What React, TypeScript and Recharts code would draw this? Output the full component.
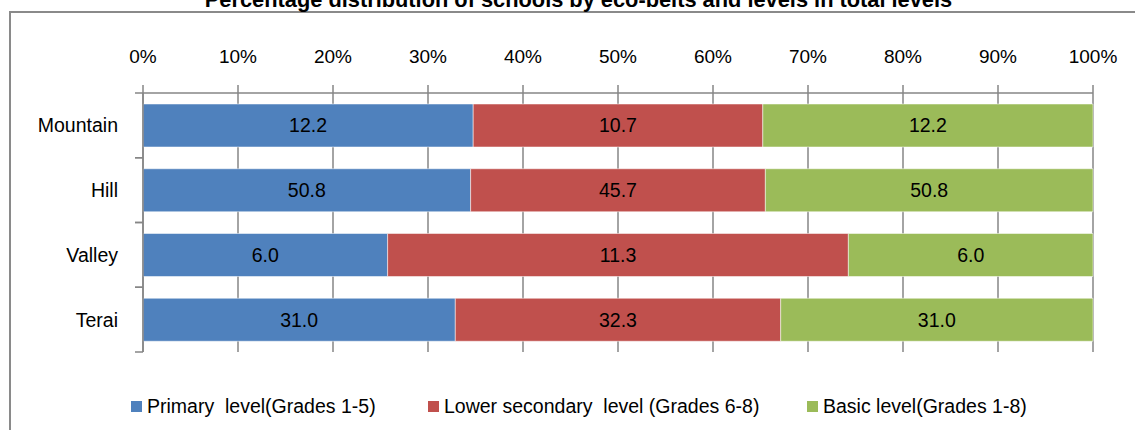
import React from 'react';
import { BarChart, Bar, XAxis, YAxis, CartesianGrid, LabelList } from 'recharts';

// eco-belts (top to bottom)
const belts = ['Mountain', 'Hill', 'Valley', 'Terai'];
const primary = [12.2, 50.8, 6.0, 31.0];
const lowerSecondary = [10.7, 45.7, 11.3, 32.3];
const basic = [12.2, 50.8, 6.0, 31.0];

const percentTicks = [0, 0.1, 0.2, 0.3, 0.4, 0.5, 0.6, 0.7, 0.8, 0.9, 1];

const seriesNames = [
  'Primary  level(Grades 1-5)',
  'Lower secondary  level (Grades 6-8)',
  'Basic level(Grades 1-8)',
];
const colors = ['#4F81BD', '#C0504D', '#9BBB59'];

const data = belts.map((belt, i) => ({
  belt,
  primary: primary[i],
  lowerSecondary: lowerSecondary[i],
  basic: basic[i],
}));

const FONT = "'Liberation Sans', Arial, sans-serif";
const FS = 19.5;
const AXIS = '#868686';

const W = 1135;
const H = 430;
const margin = { top: 0, right: 42, bottom: 78, left: 0 };
const yAxisWidth = 143;
const xAxisHeight = 93;
const plotHeight = H - margin.top - margin.bottom - xAxisHeight;
const band = plotHeight / belts.length;

const TICK = 8;
const TICK_GAP = 17;

const BeltTick = (props: any) => {
  const { x, y, payload } = props;
  const axisX = x + TICK + TICK_GAP;
  return (
    <g>
      <line x1={axisX - TICK} x2={axisX} y1={y - band / 2} y2={y - band / 2} stroke={AXIS} strokeWidth={1.5} />
      <line x1={axisX - TICK} x2={axisX} y1={y + band / 2} y2={y + band / 2} stroke={AXIS} strokeWidth={1.5} />
      <text x={x} y={y} dy="0.355em" textAnchor="end" fill="#000" fontSize={FS} fontFamily={FONT}>
        {payload.value}
      </text>
    </g>
  );
};

const fmt = (v: any) => Number(v).toFixed(1);

export default function App() {
  return (
    <div style={{ position: 'relative', width: W, height: H, overflow: 'hidden', background: '#fff' }}>
      <style>{'body{margin:0}'}</style>
      <div
        style={{
          position: 'absolute',
          left: 9,
          top: 11,
          width: W,
          height: H,
          border: '2px solid #8a8a8a',
          boxSizing: 'border-box',
        }}
      />
      <div
        style={{
          position: 'absolute',
          left: 0,
          width: 1157,
          top: -11,
          lineHeight: '22px',
          textAlign: 'center',
          fontFamily: FONT,
          fontWeight: 'bold',
          fontSize: 21.8,
          color: '#000',
          whiteSpace: 'nowrap',
        }}
      >
        Percentage distribution of schools by eco-belts and levels in total levels
      </div>
      <div style={{ position: 'absolute', left: 0, top: 0 }}>
        <BarChart width={W} height={H} data={data} layout="vertical" stackOffset="expand" margin={margin} barSize={43}>
          <CartesianGrid horizontal={false} stroke={AXIS} strokeWidth={1.5} strokeDasharray="" />
          <XAxis
            type="number"
            orientation="top"
            domain={[0, 1]}
            ticks={percentTicks}
            height={xAxisHeight}
            tickFormatter={(v: number) => `${Math.round(v * 100)}%`}
            tick={{ fill: '#000', fontSize: 19, fontFamily: FONT }}
            tickSize={TICK}
            tickMargin={22}
            axisLine={{ stroke: AXIS, strokeWidth: 1.5 }}
            tickLine={{ stroke: AXIS, strokeWidth: 1.5 }}
          />
          <YAxis
            type="category"
            dataKey="belt"
            width={yAxisWidth}
            tick={<BeltTick />}
            tickLine={false}
            tickSize={TICK}
            tickMargin={TICK_GAP}
            axisLine={{ stroke: AXIS, strokeWidth: 1.5 }}
          />
          <Bar dataKey="primary" stackId="a" fill={colors[0]} stroke="#ffffff" strokeOpacity={0.5} isAnimationActive={false}>
            <LabelList dataKey="primary" position="center" formatter={fmt} fill="#000" fontSize={FS} fontFamily={FONT} />
          </Bar>
          <Bar dataKey="lowerSecondary" stackId="a" fill={colors[1]} stroke="#ffffff" strokeOpacity={0.5} isAnimationActive={false}>
            <LabelList dataKey="lowerSecondary" position="center" formatter={fmt} fill="#000" fontSize={FS} fontFamily={FONT} />
          </Bar>
          <Bar dataKey="basic" stackId="a" fill={colors[2]} stroke="#ffffff" strokeOpacity={0.5} isAnimationActive={false}>
            <LabelList dataKey="basic" position="center" formatter={fmt} fill="#000" fontSize={FS} fontFamily={FONT} />
          </Bar>
        </BarChart>
      </div>
      {/* legend */}
      {[131, 428, 807].map((left, i) => (
        <div
          key={seriesNames[i]}
          style={{
            position: 'absolute',
            left,
            top: 394,
            height: 24,
            display: 'flex',
            alignItems: 'center',
            fontFamily: FONT,
            fontSize: FS,
            color: '#000',
            whiteSpace: 'pre',
          }}
        >
          <span style={{ display: 'inline-block', width: 11, height: 11, background: colors[i], marginRight: 5 }} />
          {seriesNames[i]}
        </div>
      ))}
    </div>
  );
}
